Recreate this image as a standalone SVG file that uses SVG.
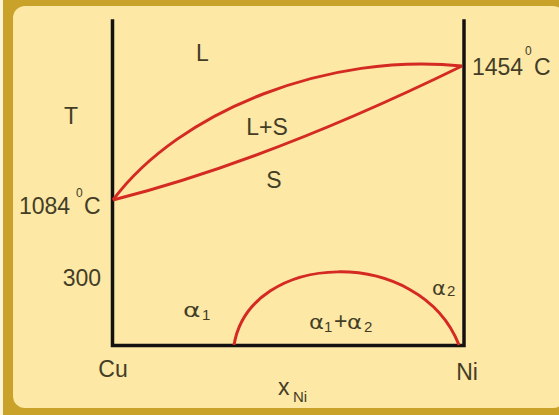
<svg xmlns="http://www.w3.org/2000/svg" width="559" height="415" viewBox="0 0 559 415">
<style>
.t{font-family:"Liberation Sans",Arial,sans-serif;fill:#433d26;font-size:23px}
.sm{font-size:12px}
.sub{font-size:15px}
.a{font-family:"DejaVu Sans","Liberation Sans",sans-serif;fill:#433d26;font-size:19px}
.ax{fill:none;stroke:#141210;stroke-width:3.5;stroke-linecap:square}
.cv{fill:none;stroke:#d42a22;stroke-width:3}
</style>
<rect x="0" y="0" width="559" height="415" fill="#fbf3d6"/>
<rect x="3" y="0" width="556" height="415" fill="#c9a22a"/>
<rect x="13" y="6" width="552" height="402" rx="12" fill="#fde8a6"/>
<g id="axes">
<path class="ax" d="M112.5,21 V345.5 H464 V21"/>
</g>
<g id="connectors">
<path id="liquidus" class="cv" d="M113,200 C180,110 330,52 462,66"/>
<path id="solidus" class="cv" d="M113,200 Q270,160 462,66"/>
<path id="solvus" class="cv" d="M234,345 C250,250 420,245 459,345"/>
</g>
<g id="label-L"><text class="t" x="196" y="61">L</text></g>
<g id="label-T"><text class="t" x="71" y="124" text-anchor="middle">T</text></g>
<g id="label-LS"><text class="t" x="267" y="135" text-anchor="middle">L+S</text></g>
<g id="label-S"><text class="t" x="274" y="188" text-anchor="middle">S</text></g>
<g id="label-1084"><text class="t" x="19" y="214">1084</text><text class="t sm" x="76" y="197">0</text><text class="t" x="84" y="214">C</text></g>
<g id="label-1454"><text class="t" x="472" y="75">1454</text><text class="t sm" x="525" y="55">0</text><text class="t" x="534" y="75">C</text></g>
<g id="label-300"><text class="t" x="101" y="286" text-anchor="end">300</text></g>
<g id="label-a1"><text class="a" transform="translate(183,317) scale(1.4,1)">α</text><text class="t sub" x="202" y="320">1</text></g>
<g id="label-a2"><text class="a" transform="translate(432,295) scale(1.1,1)">α</text><text class="t sub" x="447" y="296">2</text></g>
<g id="label-a1a2"><text class="a" transform="translate(309,329) scale(1.2,1)">α</text><text class="t sub" x="324" y="332">1</text><text class="t" x="334" y="329" font-size="20">+</text><text class="a" transform="translate(347,329) scale(1.2,1)">α</text><text class="t sub" x="364" y="332">2</text></g>
<g id="label-Cu"><text class="t" x="113" y="377" text-anchor="middle">Cu</text></g>
<g id="label-Ni"><text class="t" x="467" y="380" text-anchor="middle">Ni</text></g>
<g id="label-xNi"><text class="t" x="278" y="395" font-size="24">x</text><text class="t sub" x="293" y="402">Ni</text></g>
</svg>
